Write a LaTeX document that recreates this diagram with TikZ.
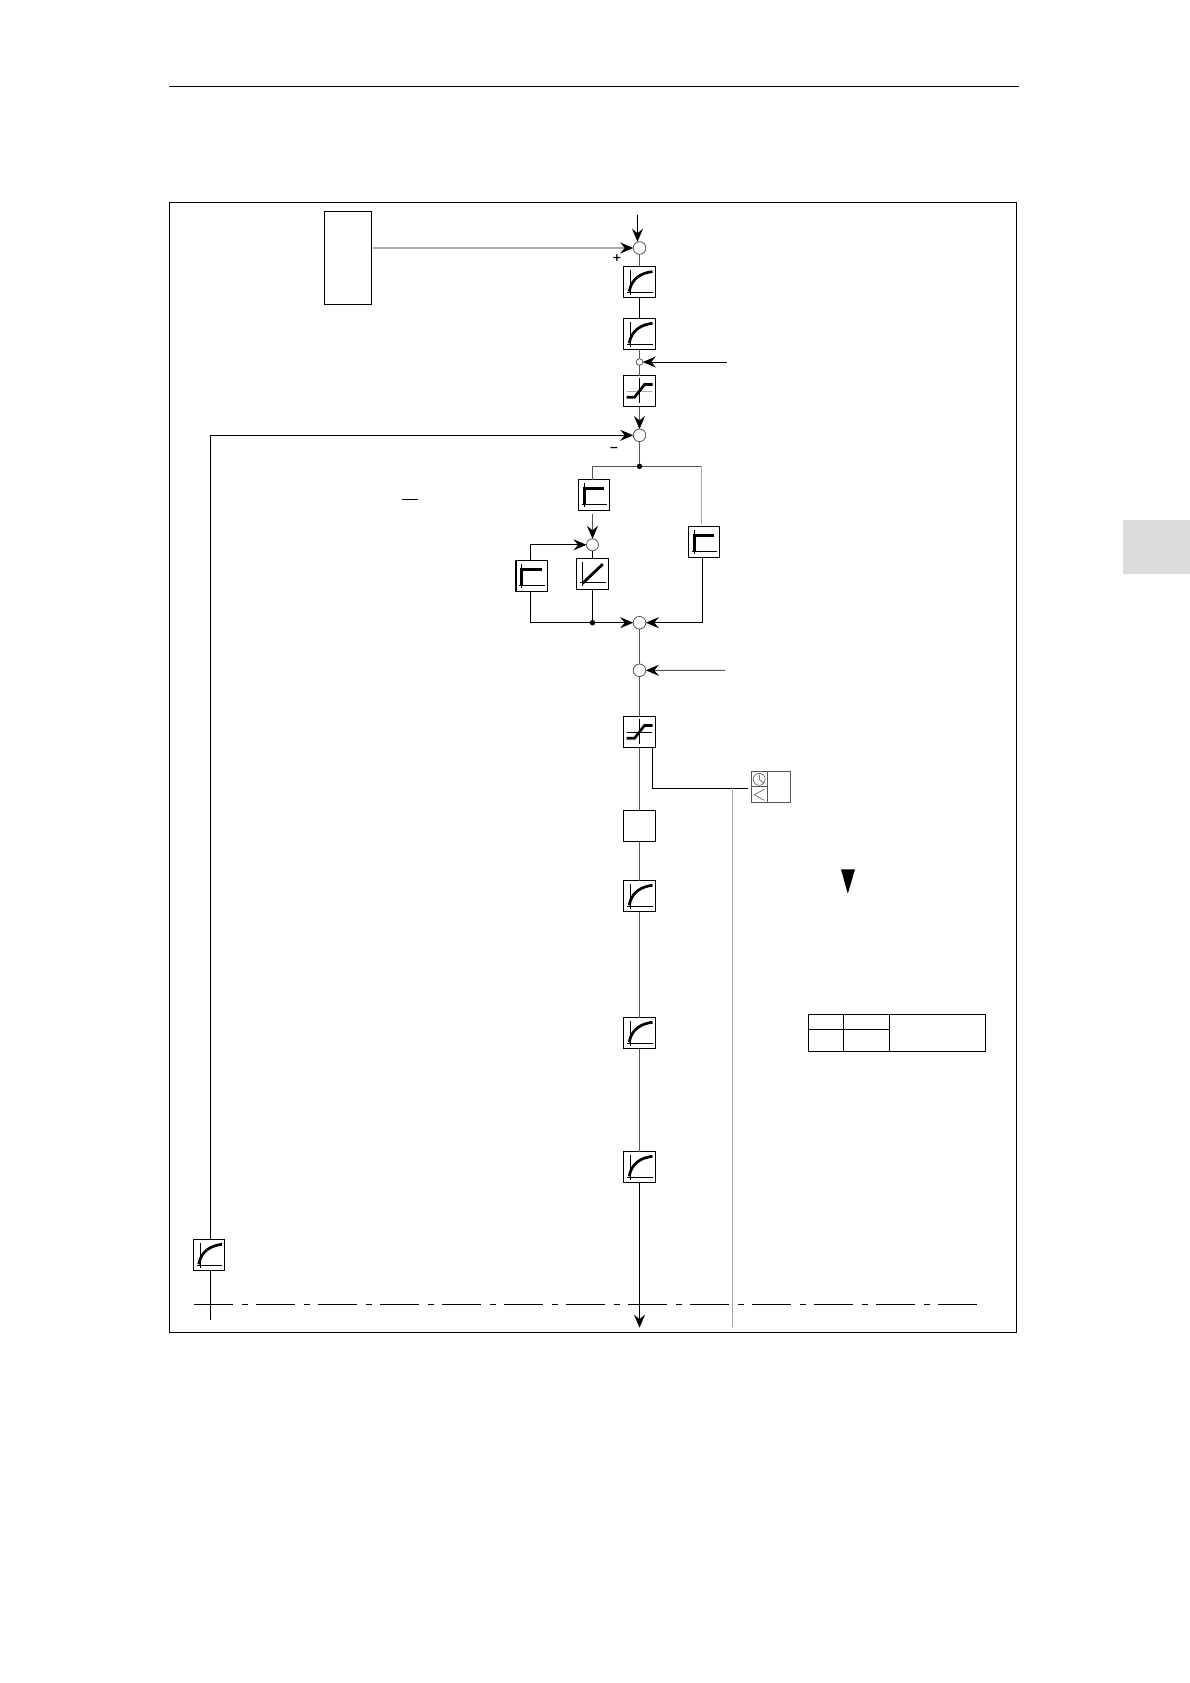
\documentclass[tikz,border=0pt]{standalone}
\usepackage{fontspec}
\setsansfont{DejaVu Sans}
\usepackage{tikz}
\usetikzlibrary{arrows.meta,positioning}
\definecolor{linegrey}{RGB}{85,85,85}
\definecolor{paleline}{RGB}{170,170,170}
\definecolor{tabgrey}{RGB}{220,220,220}

\tikzset{
  iconbox/.style={draw, line width=1.1pt, fill=white, minimum width=31.5pt, minimum height=31pt, inner sep=0pt, outer sep=0pt},
  sumnode/.style={circle, draw=linegrey, line width=0.8pt, fill=white, minimum size=12.6pt, inner sep=0pt, outer sep=0pt},
  smallsum/.style={sumnode, minimum size=6.6pt},
  dotnode/.style={circle, fill=black, minimum size=5.5pt, inner sep=0pt, outer sep=0pt},
  signnode/.style={font=\sffamily\bfseries\fontsize{11}{11}\selectfont, inner sep=0pt},
  tablecell/.style={draw, line width=1.1pt, inner sep=0pt, outer sep=0pt},
  timecell/.style={draw=linegrey, line width=0.7pt, inner sep=0pt, outer sep=0pt},
  wire/.style={line width=1pt},
  midwire/.style={line width=1pt, draw=linegrey},
  palewire/.style={line width=1.5pt, draw=paleline},
  tip/.style={-{Stealth[length=13pt, width=11pt, inset=4.5pt, color=black]}},
  pics/curveicon/.style={code={
    \draw[line width=0.8pt] (-9,-12.5) -- (-9,12.5) (-12.5,10) -- (13,10);
    \draw[line width=2.7pt] (-10.3,9.3) .. controls (-8,-4) and (2,-9.5) .. (13,-10.7);
  }},
  pics/stepicon/.style={code={
    \draw[line width=0.8pt] (-10,-12.3) -- (-10,12.3) (-12.3,9.3) -- (13.3,9.3);
    \draw[line width=3pt] (-10,9) -- (-10,-6.3) -- (10.3,-6.3);
  }},
  pics/rampicon/.style={code={
    \draw[line width=0.8pt] (-10,-12) -- (-10,12) (-12.3,8.3) -- (13.3,8.3);
    \draw[line width=2.8pt] (-10,9.3) -- (10.3,-10);
  }},
  pics/limiticon/.style={code={
    \draw[line width=0.8pt] (-0.5,-12.7) -- (-0.5,12.3);
    \draw[line width=0.9pt, draw=#1] (-12.8,0) -- (12.6,0);
    \draw[line width=2.7pt] (-13,6.3) -- (-5,6.3) -- (5,-6.5) -- (13,-6.5);
  }}
}

\begin{document}
\begin{tikzpicture}[x=1pt, y=-1pt]
  \useasboundingbox (0,0) rectangle (1190,1683);
  % page furniture
  \draw[line width=1.1pt] (169,86.3) -- (1019,86.3);
  \fill[tabgrey] (1123,520) rectangle (1190,573.5);
  \draw[line width=1.1pt] (169.5,202.3) rectangle (1016.5,1332.3);
  \draw[line width=1pt] (402,499) -- (418,499);

  % main column
  \node[sumnode] (sumin) at (639.5,248) {};
  \node[iconbox, below=12.5pt of sumin] (ramp1) {};
  \node[iconbox, below=20.7pt of ramp1] (ramp2) {};
  \node[smallsum, below=9.2pt of ramp2] (sumadd) {};
  \node[iconbox, below=10.2pt of sumadd] (limit1) {};
  \node[sumnode, below=22.5pt of limit1] (sumerr) {};
  \node[dotnode, below=22pt of sumerr] (tapP) {};
  \node[sumnode, below=147.3pt of tapP] (sumpid) {};
  \node[sumnode, below=35pt of sumpid] (sumpre) {};
  \node[iconbox, below=39.9pt of sumpre] (limit2) {};
  \node[iconbox, below=63pt of limit2] (curr) {};
  \node[iconbox, below=39pt of curr] (filt1) {};
  \node[iconbox, below=106pt of filt1] (filt2) {};
  \node[iconbox, below=103pt of filt2] (filt3) {};

  % controller branches
  \node[iconbox, below=10.5pt of tapP, xshift=-45.5pt] (stepD) {};
  \node[sumnode, minimum size=12pt, below=28.2pt of stepD, xshift=-1.5pt] (sumI) {};
  \node[iconbox, below=7.8pt of sumI] (rampI) {};
  \node[iconbox, left=29.3pt of rampI, yshift=-2pt] (stepI) {};
  \node[iconbox, below=57.5pt of tapP, xshift=64.5pt] (stepP) {};
  \node[dotnode] (tapI) at (rampI |- sumpid) {};

  % other blocks
  \node[draw, line width=1.1pt, minimum width=47.4pt, minimum height=93pt, inner sep=0pt, outer sep=0pt] (feedfwd) at (348,257.8) {};
  \node[iconbox] (fbfilt) at (209,1255) {};
  \node[timecell, minimum width=16.3pt, minimum height=15pt, right=95.8pt of limit2, yshift=-47.3pt] (clockcell) {};
  \node[timecell, minimum width=16.3pt, minimum height=16pt, below=0pt of clockcell] (lesscell) {};
  \node[timecell, minimum width=23pt, minimum height=31pt, anchor=north west] (valcell) at (clockcell.north east) {};

  % icons
  \foreach \nn in {ramp1,ramp2,filt1,filt2,filt3,fbfilt} \pic at (\nn) {curveicon};
  \foreach \nn in {stepD,stepI,stepP} \pic at (\nn) {stepicon};
  \pic at (rampI) {rampicon};
  \pic at (limit1) {limiticon=paleline};
  \pic at (limit2) {limiticon=black};
  \draw[line width=0.6pt, linegrey] (clockcell) circle (6pt);
  \draw[line width=0.6pt, linegrey] ([xshift=0.5pt,yshift=5pt]clockcell.center) -- (clockcell.center) -- ([xshift=4.5pt,yshift=-4pt]clockcell.center);
  \draw[line width=0.6pt, linegrey] ([xshift=5pt,yshift=5.5pt]lesscell.center) -- ([xshift=-5pt]lesscell.center) -- ([xshift=5pt,yshift=-5.5pt]lesscell.center);

  % free ends
  \coordinate (inlet) at ([xshift=-2pt,yshift=27pt]sumin.north);
  \coordinate (addin) at (726.7,362);
  \coordinate (prein) at (725,670.3);
  \coordinate (taptop) at (732.7,788.3);
  \coordinate (tapend) at (732.7,1326.7);
  \coordinate (outlet) at (639.5,1327.7);
  \coordinate (fbend) at (210.5,1320);
  \coordinate (axisl) at (194,1304.3);
  \coordinate (axisr) at (977,1304.3);

  % connectors
  \draw[wire, tip] (inlet) -- ([xshift=-2pt]sumin.north);
  \draw[palewire, tip] ([xshift=1.5pt]feedfwd.east |- sumin) -- (sumin);
  \draw[midwire] (sumin) -- (ramp1);
  \draw[wire] (ramp1) -- (ramp2);
  \draw[midwire] (ramp2) -- (sumadd);
  \draw[wire, tip] (addin) -- (sumadd);
  \draw[midwire] (sumadd) -- (limit1);
  \draw[midwire, tip] (limit1) -- (sumerr);
  \draw[wire, tip] ([xshift=1.5pt]fbfilt.north) |- (sumerr);
  \draw[wire] ([xshift=1.5pt]fbfilt.south) -- (fbend);
  \draw[midwire] (sumerr) -- (tapP);
  \draw[midwire] (tapP) -| (sumI |- stepD.north);
  \draw[midwire] (tapP) -- ([xshift=-2.3pt]stepP.north |- tapP);
  \draw[midwire, paleline] ([xshift=-2.3pt]stepP.north |- tapP) -- ([xshift=-2.3pt,yshift=3pt]stepP.north);
  \draw[midwire, tip] ([yshift=-3pt]sumI |- stepD.south) -- (sumI);
  \draw[wire, tip] ([xshift=-1.7pt]stepI.north) |- (sumI);
  \draw[wire] (sumI) -- (rampI);
  \draw[wire] (rampI) -- (tapI);
  \draw[wire, tip] ([xshift=-1.7pt]stepI.south) |- (sumpid);
  \draw[wire, tip] ([xshift=-1.7pt]stepP.south) |- (sumpid);
  \draw[midwire] (sumpid) -- (sumpre);
  \draw[midwire, tip] (prein) -- (sumpre);
  \draw[midwire] (sumpre) -- (limit2);
  \draw[midwire] (limit2) -- (curr);
  \draw[wire] ([xshift=12.8pt]limit2.south) |- ([xshift=-3pt,yshift=-1.5pt]clockcell.south west);
  \draw[palewire] (taptop) -- (tapend);
  \draw[midwire] (curr) -- (filt1);
  \draw[midwire] (filt1) -- (filt2);
  \draw[midwire] (filt2) -- (filt3);
  \draw[wire, tip] (filt3) -- (outlet);
  \draw[line width=1pt, dash pattern=on 39pt off 9pt on 6pt off 8pt] (axisl) -- (axisr);

  % signs and marker
  \node[signnode] (plussign) at (617,257.7) {+};
  \node[signnode] (minussign) at (614,449) {−};
  \fill (841,869.3) -- (855,869.3) -- (847.8,893.7) -- cycle;

  % table
  \node[tablecell, minimum width=35pt, minimum height=15pt] (cellA) at (825.8,1021.8) {};
  \node[tablecell, minimum width=46pt, minimum height=15pt, right=0pt of cellA] (cellB) {};
  \node[tablecell, minimum width=35pt, minimum height=22pt, below=0pt of cellA] (cellC) {};
  \node[tablecell, minimum width=46pt, minimum height=22pt, below=0pt of cellB] (cellD) {};
  \node[tablecell, minimum width=96.4pt, minimum height=37pt, anchor=north west] (cellE) at (cellB.north east) {};
\end{tikzpicture}
\end{document}
